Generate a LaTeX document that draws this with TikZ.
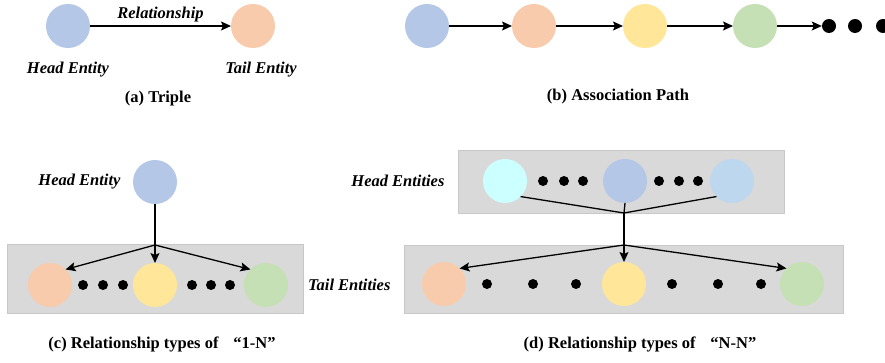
\documentclass[tikz,border=0pt]{standalone}
\usepackage{fontspec}
\setmainfont{Liberation Serif}
\usetikzlibrary{arrows.meta,positioning}
\definecolor{entblue}{HTML}{B4C7E7}
\definecolor{entorange}{HTML}{F8CBAD}
\definecolor{entyellow}{HTML}{FFE699}
\definecolor{entgreen}{HTML}{C5E0B4}
\definecolor{entcyan}{HTML}{CCFFFF}
\definecolor{entsky}{HTML}{BDD7EE}
\definecolor{grpgray}{HTML}{D9D9D9}
\definecolor{grpline}{HTML}{C8C8C8}
\newcommand{\figsize}{\fontsize{16.5}{19}\selectfont}
\tikzstyle{ent}=[circle,minimum size=44pt,inner sep=0pt,outer sep=0pt]
\tikzstyle{edot}=[circle,fill=black,minimum size=10pt,inner sep=0pt]
\tikzstyle{bigdot}=[circle,fill=black,minimum size=14pt,inner sep=0pt]
\tikzstyle{grp}=[draw=grpline,fill=grpgray,line width=0.6pt,inner sep=0pt]
\tikzstyle{lbl}=[font=\figsize\bfseries\itshape]
\tikzstyle{subcap}=[font=\figsize\bfseries]
\tikzstyle{link}=[-{Stealth[length=10pt,width=9pt,inset=2pt]},line width=1.3pt]

\begin{document}
\begin{tikzpicture}[
    x=1pt,y=-1pt
    ]
    \useasboundingbox (0,0) rectangle (885,363);
    % (a) triple
    \node[ent,fill=entblue](a0) at (68,26){};
    \node[ent,fill=entorange](a1) at (253,26){};
    \node[lbl](ah) at (68,70){Head Entity};
    \node[lbl](at) at (261,70){Tail Entity};
    \node[subcap](acap) at (158,99){(a) Triple};
    \path[link]
    (a0) edge node[lbl,above=0pt](rel){Relationship} (a1);
    % (b) association path
    \node[ent,fill=entblue](b0) at (427,26){};
    \node[ent,fill=entorange](b1) at (534,26){};
    \node[ent,fill=entyellow](b2) at (645,26){};
    \node[ent,fill=entgreen](b3) at (755,26){};
    \node[bigdot](b4) at (829,26){};
    \node[bigdot](b5) at (855,26){};
    \node[bigdot](b6) at (883,26){};
    \node[subcap](bcap) at (618,97){(b) Association Path};
    \path[link]
    (b0) edge (b1)
    (b1) edge (b2)
    (b2) edge (b3)
    (b3) edge (b4)
    ;
    % (c) 1-N
    \node[grp,minimum width=296pt,minimum height=69pt](cg) at (155,278.5){};
    \node[ent,fill=entblue](c0) at (155,182){};
    \node[lbl,anchor=east](ch) at (124,182){Head Entity};
    \node[ent,fill=entorange](c1) at (50,285){};
    \node[ent,fill=entyellow](c2) at (155,285){};
    \node[ent,fill=entgreen](c3) at (266,285){};
    \node[edot](c4) at (83,285){};
    \node[edot](c5) at (103,285){};
    \node[edot](c6) at (123,285){};
    \node[edot](c7) at (192,285){};
    \node[edot](c8) at (211,285){};
    \node[edot](c9) at (230,285){};
    \coordinate (cb) at (155,245);
    \node[subcap](ccap) at (162,344){(c) Relationship types of\hspace{0.9em}“1-N”};
    \path[link]
    (c0) edge (c2)
    (cb) edge (c1.45)
    (cb) edge (c3.135)
    ;
    % (d) N-N
    \node[grp,minimum width=326pt,minimum height=63pt](dg0) at (621,181.5){};
    \node[grp,minimum width=439pt,minimum height=68pt](dg1) at (623.5,279){};
    \node[lbl,anchor=east](dh) at (448,181){Head Entities};
    \node[lbl,anchor=east](dt) at (394,285){Tail Entities};
    \node[ent,fill=entcyan](d0) at (505,181){};
    \node[ent,fill=entblue](d1) at (625,181){};
    \node[ent,fill=entsky](d2) at (732,181){};
    \node[edot](d3) at (543,181){};
    \node[edot](d4) at (564,181){};
    \node[edot](d5) at (583,181){};
    \node[edot](d6) at (659,181){};
    \node[edot](d7) at (679,181){};
    \node[edot](d8) at (698,181){};
    \node[ent,fill=entorange](e0) at (444,284){};
    \node[ent,fill=entyellow](e1) at (624,284){};
    \node[ent,fill=entgreen](e2) at (802,284){};
    \node[edot](e3) at (487,284){};
    \node[edot](e4) at (533,284){};
    \node[edot](e5) at (576,284){};
    \node[edot](e6) at (672,284){};
    \node[edot](e7) at (718,284){};
    \node[edot](e8) at (761,284){};
    \coordinate (dj) at (624,213);
    \coordinate (db) at (624,245);
    \node[subcap](dcap) at (640,344){(d) Relationship types of\hspace{0.9em}“N-N”};
    \draw[line width=1.3pt] (d0.-45) -- (dj) -- (d2.-135) (d1.south) -- (dj);
    \path[link]
    (dj) edge (e1)
    (db) edge (e0.45)
    (db) edge (e2.135)
    ;
\end{tikzpicture}
\end{document}
